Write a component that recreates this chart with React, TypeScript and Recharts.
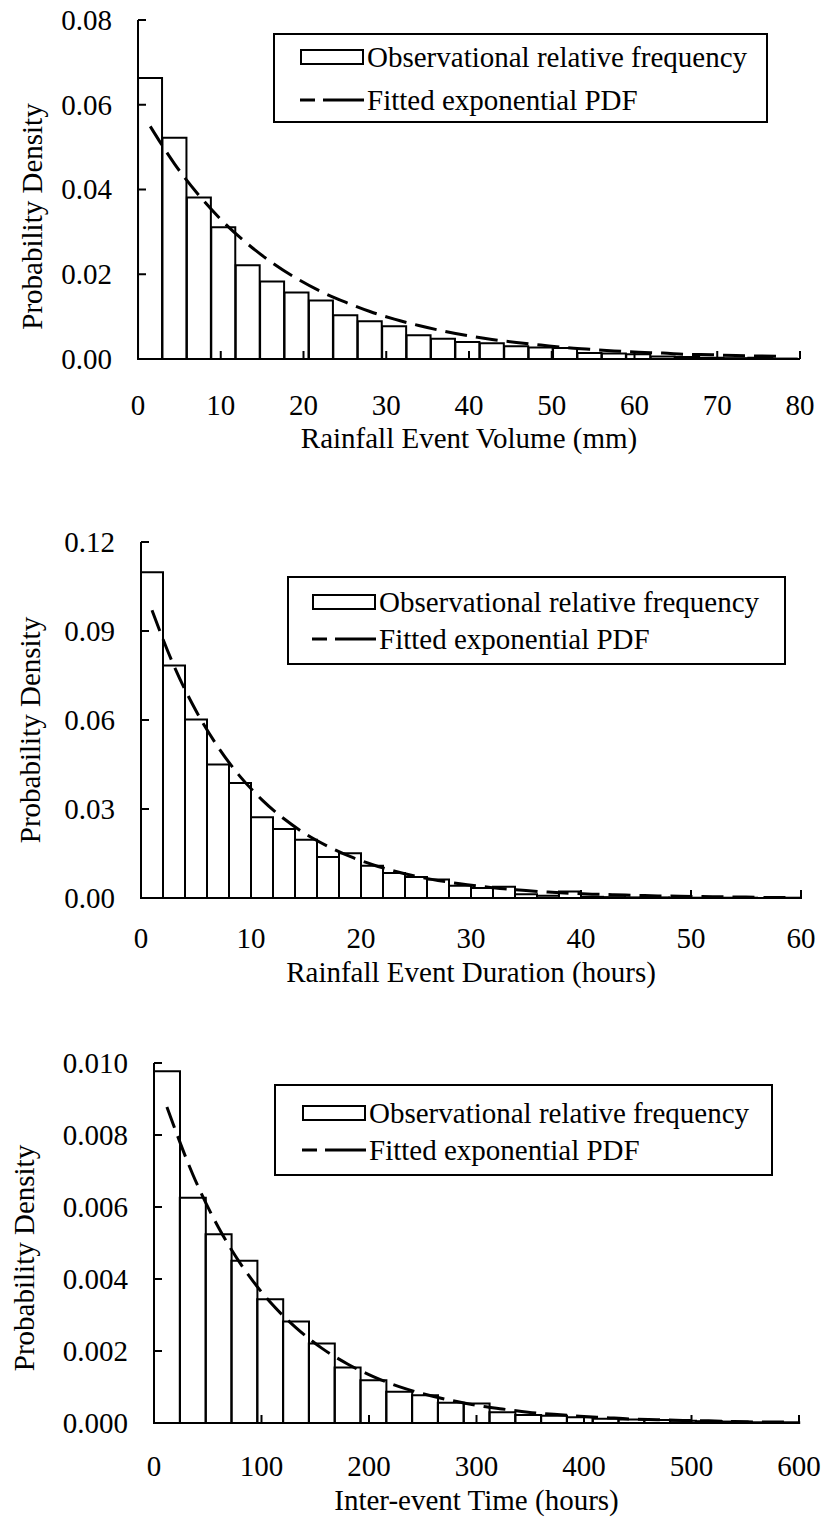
import React from 'react';
import { ComposedChart, Bar, Line, XAxis, YAxis, Legend } from 'recharts';

const FONT = '"Liberation Serif", "Times New Roman", serif';
const FS = 29;

// rainfall event volume (mm), bins ~2.95 mm wide
const volumeBins = [1.48, 4.43, 7.38, 10.33, 13.28, 16.23, 19.18, 22.13, 25.08, 28.03, 30.98, 33.93, 36.88, 39.83, 42.78, 45.73, 48.68, 51.63, 54.58, 57.53, 60.48, 63.43, 66.38, 69.33, 72.28, 75.23, 78.18];
const volumeFreq = [0.0663, 0.0522, 0.0381, 0.0311, 0.0221, 0.0183, 0.0157, 0.0138, 0.0103, 0.0089, 0.0077, 0.0056, 0.0048, 0.0040, 0.0037, 0.0030, 0.0027, 0.0026, 0.0014, 0.0013, 0.0011, 0.0006, 0.0005, 0.0003, 0.0002, 0.0003, 0.0001];
const volumePdf = [0.0549, 0.0460, 0.0386, 0.0323, 0.0271, 0.0227, 0.0190, 0.0159, 0.0134, 0.0112, 0.0094, 0.0079, 0.0066, 0.0055, 0.0046, 0.0039, 0.0033, 0.0027, 0.0023, 0.0019, 0.0016, 0.0014, 0.0011, 0.0010, 0.0008, 0.0007, 0.0006];
const volumeXTicks = [0, 10, 20, 30, 40, 50, 60, 70, 80];
const volumeYTicks = [0, 0.02, 0.04, 0.06, 0.08];

// rainfall event duration (hours), 2 h bins
const durationBins = [1, 3, 5, 7, 9, 11, 13, 15, 17, 19, 21, 23, 25, 27, 29, 31, 33, 35, 37, 39, 41, 43, 45, 47, 49, 51, 53, 55, 57, 59];
const durationFreq = [0.1098, 0.0784, 0.0602, 0.0450, 0.0388, 0.0272, 0.0233, 0.0196, 0.0138, 0.0151, 0.0109, 0.0084, 0.0071, 0.0062, 0.0041, 0.0034, 0.0038, 0.0013, 0.0008, 0.0022, 0.0004, 0.0003, 0.0002, 0.0002, 0.0001, 0.0001, 0.0001, 0.0001, 0.0000, 0.0001];
const durationPdf = [0.0970, 0.0782, 0.0631, 0.0509, 0.0410, 0.0331, 0.0267, 0.0215, 0.0174, 0.0140, 0.0113, 0.0091, 0.0073, 0.0059, 0.0048, 0.0039, 0.0031, 0.0025, 0.0020, 0.0016, 0.0013, 0.0011, 0.0009, 0.0007, 0.0006, 0.0005, 0.0004, 0.0003, 0.0002, 0.0002];
const durationXTicks = [0, 10, 20, 30, 40, 50, 60];
const durationYTicks = [0, 0.03, 0.06, 0.09, 0.12];

// inter-event time (hours), 24 h bins
const interBins = [12, 36, 60, 84, 108, 132, 156, 180, 204, 228, 252, 276, 300, 324, 348, 372, 396, 420, 444, 468, 492, 516, 540, 564, 588];
const interFreq = [0.00977, 0.00626, 0.00524, 0.00451, 0.00344, 0.00282, 0.00221, 0.00154, 0.00119, 0.00087, 0.00077, 0.00056, 0.00054, 0.00030, 0.00022, 0.00020, 0.00016, 0.00012, 0.00010, 0.00008, 0.00006, 0.00005, 0.00004, 0.00002, 0.00002];
const interPdf = [0.00878, 0.00691, 0.00543, 0.00427, 0.00336, 0.00265, 0.00208, 0.00164, 0.00129, 0.00101, 0.00080, 0.00063, 0.00049, 0.00039, 0.00030, 0.00024, 0.00019, 0.00015, 0.00011, 0.00009, 0.00007, 0.00006, 0.00004, 0.00003, 0.00003];
const interXTicks = [0, 100, 200, 300, 400, 500, 600];
const interYTicks = [0, 0.002, 0.004, 0.006, 0.008, 0.010];

const makeRows = (bins: number[], freq: number[], pdf: number[]) =>
  bins.map((x, i) => ({ x, freq: freq[i], pdf: pdf[i] }));

const black = { stroke: '#000', strokeWidth: 2 };

// serif tick text, drawn by hand so the font sticks
const XTick = (props: any) => (
  <text x={props.x} y={props.y} dy="0.71em" textAnchor="middle" fill="#000"
    fontSize={FS} fontFamily={FONT} style={{ fontFamily: FONT }}>
    {props.payload.value}
  </text>
);
const makeYTick = (digits: number) => (props: any) => (
  <text x={props.x} y={props.y} dy="0.34em" textAnchor="end" fill="#000"
    fontSize={FS} fontFamily={FONT} style={{ fontFamily: FONT }}>
    {Number(props.payload.value).toFixed(digits)}
  </text>
);

type LegendBox = { left: number; top: number; width: number; height: number; iconLeft: number; rows: number[] };

const BoxLegend = ({ payload, box }: any) => {
  const items = [...(payload || [])].sort((a: any, b: any) => (a.type === 'rect' ? -1 : 1) - (b.type === 'rect' ? -1 : 1));
  return (
    <div style={{ position: 'relative', boxSizing: 'border-box', width: box.width, height: box.height, border: '2px solid #000', background: '#fff', fontFamily: FONT, fontSize: FS, color: '#000' }}>
      {items.map((it: any, i: number) => (
        <div key={it.value} style={{ position: 'absolute', left: box.iconLeft - 2, top: box.rows[i] - 2 - 20, height: 40, display: 'flex', alignItems: 'center', whiteSpace: 'nowrap' }}>
          <svg width={64} height={20} style={{ display: 'block' }}>
            {it.type === 'rect'
              ? <rect x={1} y={3} width={62} height={14} fill="#fff" stroke="#000" strokeWidth={2} />
              : <path d="M0 10 H15 M23 10 H64" stroke="#000" strokeWidth={3} />}
          </svg>
          <span style={{ marginLeft: 3, lineHeight: '40px' }}>{it.value}</span>
        </div>
      ))}
    </div>
  );
};

interface PanelProps {
  top: number;
  height: number;
  rows: { x: number; freq: number; pdf: number }[];
  xTicks: number[];
  yTicks: number[];
  yDigits: number;
  xLabel: string;
  plotLeft: number;
  plotTop: number;
  right: number;
  xAxisHeight: number;
  xTickMargin: number;
  xLabelOffset: number;
  yLabelX: number;
  yLabelDy: number;
  legend: LegendBox;
}

const Panel = (p: PanelProps) => {
  const xMax = p.xTicks[p.xTicks.length - 1];
  const yMax = p.yTicks[p.yTicks.length - 1];
  return (
    <div style={{ position: 'absolute', left: 0, top: p.top, fontFamily: FONT }}>
      <ComposedChart width={821} height={p.height} data={p.rows} barCategoryGap={0} barGap={0}
        style={{ fontFamily: FONT }}
        margin={{ top: p.plotTop, right: p.right, bottom: 0, left: 0 }}>
        <XAxis dataKey="x" type="number" domain={[0, xMax]} ticks={p.xTicks} height={p.xAxisHeight}
          axisLine={black} tickLine={black} tickSize={-8} tickMargin={p.xTickMargin} tick={XTick}
          label={{ value: p.xLabel, position: 'insideBottom', offset: p.xLabelOffset, fill: '#000', fontSize: FS, fontFamily: FONT }} />
        <XAxis xAxisId="top" orientation="top" type="number" domain={[0, xMax]} height={0}
          axisLine={black} tick={false} tickLine={false} />
        <YAxis type="number" domain={[0, yMax]} ticks={p.yTicks} width={p.plotLeft}
          axisLine={black} tickLine={black} tickSize={-8} tickMargin={34} tick={makeYTick(p.yDigits)}
          label={{ value: 'Probability Density', angle: -90, position: 'insideLeft', offset: p.yLabelX, dy: p.yLabelDy, fill: '#000', fontSize: FS, fontFamily: FONT, style: { textAnchor: 'middle' } }} />
        <YAxis yAxisId="right" orientation="right" type="number" domain={[0, yMax]} width={0}
          axisLine={black} tick={false} tickLine={false} />
        <Legend layout="horizontal" verticalAlign="middle" align="center"
          wrapperStyle={{ left: p.legend.left, top: p.legend.top, width: p.legend.width, height: p.legend.height }}
          content={(props: any) => <BoxLegend payload={props.payload} box={p.legend} />} />
        <Bar dataKey="freq" name="Observational relative frequency" legendType="rect"
          fill="none" stroke="#000" strokeWidth={2} isAnimationActive={false} />
        <Line dataKey="pdf" name="Fitted exponential PDF" legendType="line" type="monotone"
          stroke="#000" strokeWidth={3} strokeDasharray="22 9" dot={false} activeDot={false} isAnimationActive={false} />
      </ComposedChart>
    </div>
  );
};

export default function App() {
  return (
    <div style={{ position: 'absolute', left: 0, top: 0, width: 821, height: 1517, background: '#fff', fontFamily: FONT }}>
      <Panel top={0} height={470} rows={makeRows(volumeBins, volumeFreq, volumePdf)}
        xTicks={volumeXTicks} yTicks={volumeYTicks} yDigits={2} xLabel="Rainfall Event Volume (mm)"
        plotLeft={138} plotTop={20} right={21} xAxisHeight={111} xTickMargin={43} xLabelOffset={22}
        yLabelX={32} yLabelDy={27}
        legend={{ left: 273, top: 33, width: 495, height: 90, iconLeft: 27, rows: [24, 67] }} />
      <Panel top={520} height={480} rows={makeRows(durationBins, durationFreq, durationPdf)}
        xTicks={durationXTicks} yTicks={durationYTicks} yDigits={2} xLabel="Rainfall Event Duration (hours)"
        plotLeft={141} plotTop={22} right={20} xAxisHeight={102} xTickMargin={37} xLabelOffset={18}
        yLabelX={30} yLabelDy={10}
        legend={{ left: 287, top: 56, width: 499, height: 89, iconLeft: 25, rows: [26, 63] }} />
      <Panel top={1040} height={477} rows={makeRows(interBins, interFreq, interPdf)}
        xTicks={interXTicks} yTicks={interYTicks} yDigits={3} xLabel="Inter-event Time (hours)"
        plotLeft={154} plotTop={23} right={22} xAxisHeight={94} xTickMargin={40} xLabelOffset={7}
        yLabelX={24} yLabelDy={15}
        legend={{ left: 274, top: 44, width: 499, height: 92, iconLeft: 28, rows: [29, 66] }} />
    </div>
  );
}
